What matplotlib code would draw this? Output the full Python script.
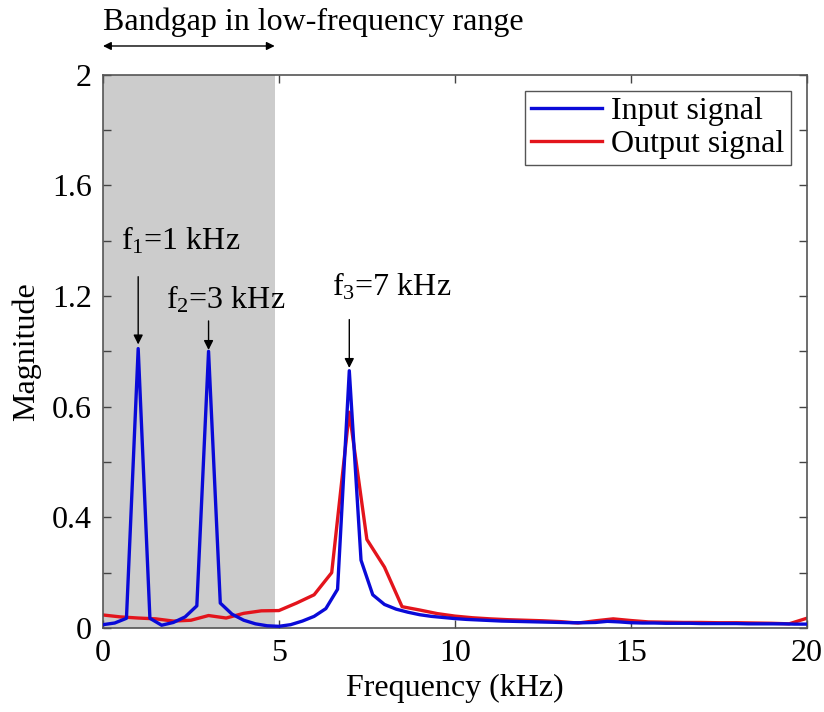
import matplotlib
matplotlib.use('Agg')
import matplotlib.pyplot as plt
import numpy as np

plt.rcParams['font.family'] = ['Liberation Serif', 'DejaVu Serif']
plt.rcParams['mathtext.fontset'] = 'custom'
plt.rcParams['mathtext.rm'] = 'Liberation Serif'
plt.rcParams['mathtext.it'] = 'Liberation Serif:italic'

# Input signal spectrum (1/3 kHz resolution)
freq_in = np.arange(61) / 3.0
mag_in = [0.012, 0.018, 0.035, 1.01, 0.035, 0.010, 0.020, 0.040, 0.080, 1.00,
          0.090, 0.050, 0.028, 0.015, 0.008, 0.006, 0.012, 0.025, 0.042, 0.070,
          0.140, 0.930, 0.245, 0.120, 0.085, 0.068, 0.057, 0.048, 0.042, 0.038,
          0.034, 0.031, 0.029, 0.027, 0.025, 0.024, 0.023, 0.022, 0.021, 0.020,
          0.019, 0.019, 0.020, 0.024, 0.022, 0.019, 0.018, 0.018, 0.017, 0.017,
          0.017, 0.016, 0.016, 0.016, 0.016, 0.015, 0.015, 0.015, 0.015, 0.014,
          0.014]

# Output signal spectrum (0.5 kHz resolution)
freq_out = np.arange(41) * 0.5
mag_out = [0.047, 0.040, 0.036, 0.033, 0.025, 0.028, 0.045, 0.036, 0.053, 0.062,
           0.063, 0.090, 0.120, 0.200, 0.780, 0.320, 0.220, 0.077, 0.065, 0.052,
           0.043, 0.037, 0.033, 0.030, 0.028, 0.026, 0.023, 0.018, 0.026, 0.033,
           0.027, 0.022, 0.021, 0.020, 0.020, 0.019, 0.019, 0.018, 0.017, 0.015,
           0.035]

y_ticks = [0, 0.2, 0.4, 0.6, 0.8, 1.0, 1.2, 1.4, 1.6, 1.8, 2.0]
y_tick_labels = ['0', '', '0.4', '', '0.6', '', '1.2', '', '1.6', '', '2']
x_ticks = [0, 5, 10, 15, 20]

BLUE = '#0a0ad8'
RED = '#e3141c'
FS = 23

fig = plt.figure(figsize=(8.24, 7.12), dpi=100)
ax = fig.add_axes([0.125, 0.118, 0.854, 0.777])

# bandgap shading
ax.axvspan(0, 4.88, color='#cccccc', lw=0, zorder=0)

ax.plot(freq_in, mag_in, color=BLUE, lw=2.4, label='Input signal', zorder=3)
ax.plot(freq_out, mag_out, color=RED, lw=2.4, label='Output signal', zorder=2)

ax.set_xlim(0, 20)
ax.set_ylim(0, 2)
ax.set_xticks(x_ticks)
ax.set_yticks(y_ticks)
ax.set_yticklabels(y_tick_labels)
ax.tick_params(direction='in', length=6, width=1, colors='#444444',
               labelcolor='black', labelsize=FS, top=True, right=True, pad=8)
for s in ax.spines.values():
    s.set_color('#555555')
    s.set_linewidth(1.2)

ax.set_xlabel('Frequency (kHz)', fontsize=FS, labelpad=4)
ax.set_ylabel('Magnitude', fontsize=FS, labelpad=8)

# peak annotations
arrow = dict(arrowstyle='-|>', color='black', lw=1, mutation_scale=14, shrinkA=0, shrinkB=0)
ax.annotate('', xy=(1.0, 1.025), xytext=(1.0, 1.27), arrowprops=arrow)
ax.annotate('', xy=(3.0, 1.005), xytext=(3.0, 1.11), arrowprops=arrow)
ax.annotate('', xy=(7.0, 0.94), xytext=(7.0, 1.115), arrowprops=arrow)
ax.text(0.5, 1.40, r'f$_1$=1 kHz', fontsize=FS, va='center', ha='left')
ax.text(1.8, 1.185, r'f$_2$=3 kHz', fontsize=FS, va='center', ha='left')
ax.text(6.5, 1.235, r'f$_3$=7 kHz', fontsize=FS, va='center', ha='left')

# bandgap arrow and label above the axes
ax.annotate('', xy=(4.88, 1.052), xytext=(0, 1.052),
            xycoords=('data', 'axes fraction'), textcoords=('data', 'axes fraction'),
            arrowprops=dict(arrowstyle='<|-|>', color='black', lw=1,
                            mutation_scale=12, shrinkA=0, shrinkB=0),
            annotation_clip=False)
ax.text(0, 1.095, 'Bandgap in low-frequency range', fontsize=FS,
        transform=ax.get_xaxis_transform(), va='center', ha='left')

leg = ax.legend(loc='upper right', fontsize=FS, frameon=True, fancybox=False,
                edgecolor='#555555', framealpha=1, handlelength=2.2,
                handletextpad=0.3, borderpad=0.2, labelspacing=0.1,
                borderaxespad=0.5)
leg.get_frame().set_linewidth(1)

fig.savefig('out.png', dpi=100, facecolor='white')
